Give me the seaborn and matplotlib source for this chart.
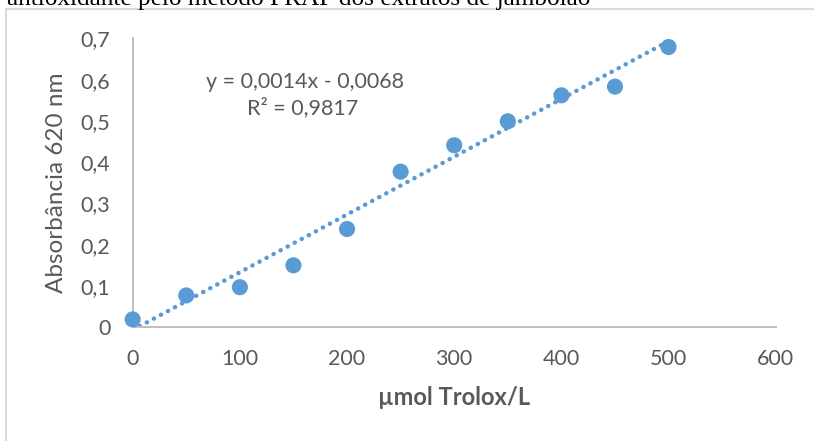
import matplotlib
matplotlib.use("Agg")
import matplotlib.pyplot as plt
from matplotlib.lines import Line2D
import numpy as np
import pandas as pd
import seaborn as sns

# Trolox standard curve (FRAP assay)
trolox_umol_l = [0, 50, 100, 150, 200, 250, 300, 350, 400, 450, 500]
absorbance_620 = [0.019, 0.077, 0.097, 0.150, 0.238, 0.377, 0.441, 0.499, 0.562, 0.583, 0.679]

# Linear regression reported on the chart
slope = 0.0014
intercept = -0.0068
r_squared = 0.9817

x_ticks = [0, 100, 200, 300, 400, 500, 600]
y_ticks = [0, 0.1, 0.2, 0.3, 0.4, 0.5, 0.6, 0.7]

caption = "antioxidante pelo método FRAP dos extratos de jambolão"

sns.set_theme(style="white")
plt.rcParams["font.family"] = ["Lato", "DejaVu Sans"]

blue = "#5B9BD5"
text_grey = "#595959"
axis_grey = "#BFBFBF"

W, H = 814, 441
fig = plt.figure(figsize=(W / 100, H / 100), dpi=100)
ax = fig.add_axes([0.163, 0.258, 0.790, 0.655])

df = pd.DataFrame({"x": trolox_umol_l, "y": absorbance_620})

# dotted linear trendline
trend = pd.DataFrame({"x": [min(trolox_umol_l), max(trolox_umol_l)]})
trend["y"] = slope * trend["x"] + intercept
sns.lineplot(data=trend, x="x", y="y", ax=ax, color=blue, lw=3.2,
             linestyle=(0, (0.05, 1.75)), dash_capstyle="round", zorder=2)

sns.scatterplot(data=df, x="x", y="y", ax=ax, color=blue, s=135,
                edgecolor="none", linewidth=0, zorder=3, clip_on=False)

ax.set_xlim(0, 600)
ax.set_ylim(0, 0.7)
ax.set_xticks(x_ticks)
ax.set_yticks(y_ticks)
ax.set_xticklabels([str(v) for v in x_ticks])
ax.set_yticklabels([("0" if v == 0 else f"{v:.1f}".replace(".", ",")) for v in y_ticks])
ax.tick_params(axis="both", length=0, labelsize=15.5, colors=text_grey)
ax.tick_params(axis="x", pad=16)
ax.tick_params(axis="y", pad=16)

for side in ["top", "right"]:
    ax.spines[side].set_visible(False)
for side in ["left", "bottom"]:
    ax.spines[side].set_color(axis_grey)
    ax.spines[side].set_linewidth(1.4)

ax.set_xlabel("µmol Trolox/L", fontsize=17, fontweight="bold", color=text_grey)
ax.set_ylabel("Absorbância 620 nm", fontsize=17.5, color=text_grey)
ax.xaxis.set_label_coords(0.5, -0.245)
ax.xaxis.label.set_va("center")
ax.yaxis.set_label_coords(-0.118, 0.5)
ax.yaxis.label.set_va("center")

# regression equation and R²
fig.text(305 / W, 1 - 82 / H, f"y = {slope:.4f}x - {abs(intercept):.4f}".replace(".", ","),
         ha="center", va="center", fontsize=15.5, color=text_grey)
fig.text(303 / W, 1 - 108 / H, f"R² = {r_squared:.4f}".replace(".", ","),
         ha="center", va="center", fontsize=15.5, color=text_grey)

# chart frame
frame_col = "#D9D9D9"
fig.add_artist(Line2D([6 / W, 6 / W], [0, 1 - 9 / H], transform=fig.transFigure,
                      color=frame_col, lw=1.5))
fig.add_artist(Line2D([6 / W, 1], [1 - 9 / H, 1 - 9 / H], transform=fig.transFigure,
                      color=frame_col, lw=1.5))

# document caption running above the chart, sized to span its line
cap = fig.text(7 / W, 1 - 5 / H, caption, ha="left", va="baseline",
               family=["Liberation Serif"], fontsize=15, color="black")
renderer = fig.canvas.get_renderer()
width_px = cap.get_window_extent(renderer).width
cap.set_fontsize(15 * 585 / width_px)

fig.savefig("out.png", dpi=100)
